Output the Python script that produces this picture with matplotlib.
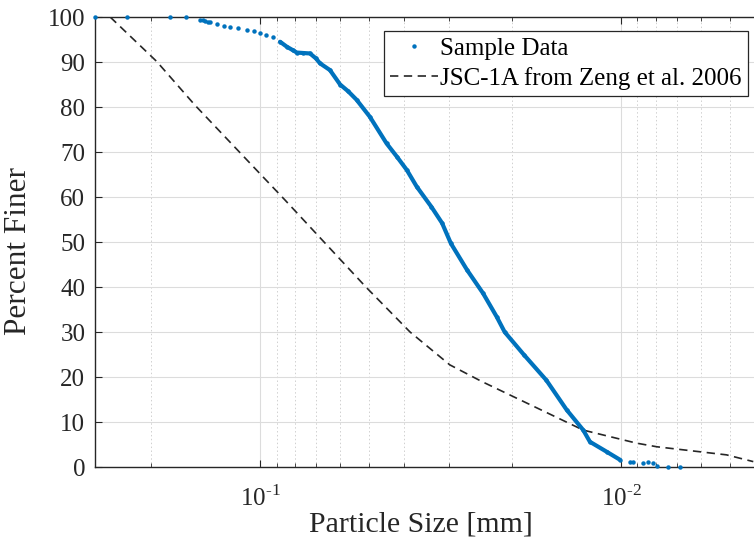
import numpy as np
import matplotlib
matplotlib.use("Agg")
import matplotlib.pyplot as plt
from matplotlib.ticker import LogLocator, NullFormatter, MultipleLocator, FuncFormatter

# sieve / laser sizing results, particle size in mm vs percent finer
sample_size = [0.2865, 0.2340, 0.1776, 0.1606, 0.1466, 0.1440, 0.1420, 0.1395,
               0.1376, 0.1318, 0.1260, 0.1211, 0.1150, 0.1089, 0.1040, 0.1000,
               0.0960, 0.0920, 0.0880, 0.0843, 0.0810, 0.0791, 0.0760, 0.0727,
               0.0700, 0.0682, 0.0640, 0.0600, 0.0570, 0.0540, 0.0496, 0.0446,
               0.0418, 0.0392, 0.0368, 0.0335, 0.0313, 0.0296, 0.0267, 0.0241,
               0.0221, 0.0210, 0.0186, 0.0161, 0.01414, 0.01272, 0.01219,
               0.01096, 0.01006, 0.00944, 0.00927, 0.00867, 0.00840, 0.00813,
               0.00796, 0.00740, 0.00686]
sample_finer = [100.0, 100.0, 100.0, 100.0, 99.4, 99.3, 99.2, 99.0,
                98.9, 98.4, 98.0, 97.8, 97.5, 97.1, 96.8, 96.4,
                96.0, 95.5, 94.5, 93.4, 92.6, 92.1, 92.0, 91.9,
                90.8, 89.7, 88.2, 85.0, 83.5, 81.6, 77.8, 71.9,
                69.0, 66.0, 62.3, 57.8, 54.2, 49.7, 43.8, 38.6,
                33.4, 30.0, 25.0, 19.3, 12.7, 8.2, 5.6,
                3.4, 1.6, 1.2, 1.2, 1.0, 1.1, 0.8,
                0.2, 0.0, 0.0]

# JSC-1A gradation (Zeng et al. 2006)
jsc_size = [0.2601, 0.1932, 0.1514, 0.1054, 0.0852, 0.0509, 0.0384, 0.0298,
            0.0243, 0.01272, 0.00905, 0.00796, 0.00510, 0.0043]
jsc_finer = [100.0, 90.1, 80.4, 67.1, 59.3, 40.0, 30.0, 22.7,
             19.0, 8.2, 5.3, 4.5, 2.7, 1.2]

plt.rcParams['font.family'] = ['Liberation Serif', 'DejaVu Serif']
plt.rcParams['mathtext.fontset'] = 'custom'
plt.rcParams['mathtext.rm'] = 'Liberation Serif'
plt.rcParams['axes.unicode_minus'] = False

blue = '#0072BD'
axcol = '#262626'


def pow10_label(v, pos):
    # 10^-n with a plain hyphen, the way the axis labels are typeset
    e = int(round(np.log10(v)))
    sign = r'\text{-}' if e < 0 else ''
    return r'10$^{%s%d}$' % (sign, abs(e))


fig = plt.figure(figsize=(7.54, 5.45), dpi=100)
ax = fig.add_axes([0.126, 0.1431, 1.0322, 0.8257])

ax.set_xscale('log')
ax.set_xlim(0.2865, 0.002)
ax.set_ylim(0, 100)

# continuous part of the sample curve, then the individual points on top
i0 = sample_size.index(0.0880)
i1 = sample_size.index(0.01006) + 1
ax.plot(sample_size[i0:i1], sample_finer[i0:i1], '-', color=blue, lw=3.0,
        solid_capstyle='round', solid_joinstyle='round', zorder=3)
ax.plot(sample_size, sample_finer, 'o', color=blue, ms=3.2, mew=0,
        clip_on=False, zorder=4, label='Sample Data')
ax.plot(jsc_size, jsc_finer, '--', color=axcol, lw=1.2, dashes=(5, 3.3),
        zorder=2, label='JSC-1A from Zeng et al. 2006')

ax.yaxis.set_major_locator(MultipleLocator(10))
ax.xaxis.set_major_locator(LogLocator(base=10))
ax.xaxis.set_major_formatter(FuncFormatter(pow10_label))
ax.xaxis.set_minor_locator(LogLocator(base=10, subs=np.arange(2, 10)))
ax.xaxis.set_minor_formatter(NullFormatter())

ax.grid(True, which='major', color='#dcdcdc', lw=0.8, zorder=0)
ax.grid(True, which='minor', axis='x', color='#d0d0d0', lw=0.7, ls=(0, (1.5, 2.5)))
ax.set_axisbelow(True)

for s in ax.spines.values():
    s.set_color(axcol)
    s.set_linewidth(1.0)

ax.tick_params(which='both', direction='in', top=True, right=True, colors=axcol,
               labelsize=18, labelcolor='#262626')
ax.tick_params(which='major', length=5, width=0.8)
ax.tick_params(which='minor', length=3, width=0.6)
ax.tick_params(axis='x', which='major', pad=13)
ax.tick_params(axis='y', which='major', pad=7)

ax.set_xlabel('Particle Size [mm]', fontsize=21.5, color='#262626')
ax.xaxis.set_label_coords(0.419, -0.098)
ax.set_ylabel('Percent Finer', fontsize=22.5, color='#262626')
ax.yaxis.set_label_coords(-0.080, 0.48)

leg = ax.legend(loc='upper right', bbox_to_anchor=(748 / 754, 1 - 31 / 545),
                bbox_transform=fig.transFigure, borderaxespad=0,
                fontsize=18, fancybox=False, framealpha=1, edgecolor=axcol,
                handlelength=1.9, handletextpad=0.1, borderpad=0.25,
                labelspacing=0.3, markerscale=1.0)
leg.get_frame().set_linewidth(0.9)

fig.savefig('out.png', dpi=100)
